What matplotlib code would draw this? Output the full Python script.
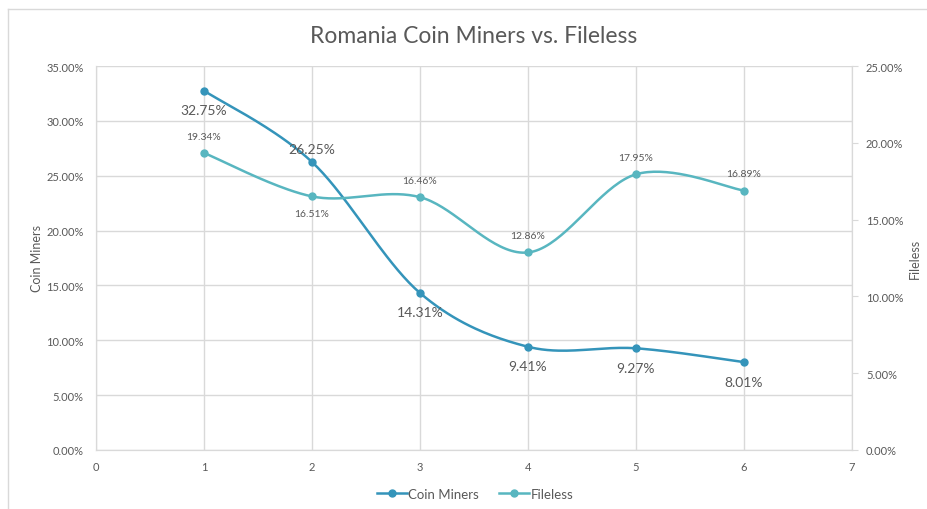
import numpy as np
import matplotlib.pyplot as plt
from matplotlib.ticker import PercentFormatter

# data
x_points = [1, 2, 3, 4, 5, 6]
coin_miners = [32.75, 26.25, 14.31, 9.41, 9.27, 8.01]
fileless = [19.34, 16.51, 16.46, 12.86, 17.95, 16.89]
coin_label_above = [False, True, False, False, False, False]
fileless_label_above = [True, False, True, True, True, True]

col_coin = "#3494BA"
col_file = "#58B6C0"
txt_gray = "#595959"
grid_gray = "#D9D9D9"

plt.rcParams['font.family'] = ['Lato', 'DejaVu Sans']


# Excel-like smoothed line (cardinal spline drawn as cubic bezier segments)
def smooth_curve(xs, ys, n=40):
    xs = np.asarray(xs, float)
    ys = np.asarray(ys, float)
    px = np.concatenate([[xs[0]], xs, [xs[-1]]])
    py = np.concatenate([[ys[0]], ys, [ys[-1]]])
    out_x, out_y = [], []
    t = np.linspace(0, 1, n)
    for i in range(1, len(px) - 2):
        p0 = np.array([px[i], py[i]])
        p3 = np.array([px[i + 1], py[i + 1]])
        c1 = p0 + (np.array([px[i + 1], py[i + 1]]) - np.array([px[i - 1], py[i - 1]])) / 6
        c2 = p3 - (np.array([px[i + 2], py[i + 2]]) - np.array([px[i], py[i]])) / 6
        b = ((1 - t) ** 3)[:, None] * p0 + (3 * (1 - t) ** 2 * t)[:, None] * c1 \
            + (3 * (1 - t) * t ** 2)[:, None] * c2 + (t ** 3)[:, None] * p3
        out_x.extend(b[:, 0])
        out_y.extend(b[:, 1])
    return np.array(out_x), np.array(out_y)


fig = plt.figure(figsize=(9.28, 5.10), dpi=100)
ax = fig.add_axes([96 / 928, 1 - 451 / 510, (852 - 96) / 928, (451 - 67) / 510])
ax2 = ax.twinx()

# chart frame
fig.add_artist(plt.Line2D([8 / 928, 8 / 928], [0, 1 - 10 / 510], transform=fig.transFigure, color=grid_gray, lw=1))
fig.add_artist(plt.Line2D([8 / 928, 1], [1 - 10 / 510, 1 - 10 / 510], transform=fig.transFigure, color=grid_gray, lw=1))

ax.set_xlim(0, 7)
ax.set_ylim(0, 35)
ax2.set_ylim(0, 25)
ax.set_xticks(range(0, 8))
ax.set_yticks(np.arange(0, 35.1, 5))
ax2.set_yticks(np.arange(0, 25.1, 5))
ax.yaxis.set_major_formatter(PercentFormatter(decimals=2))
ax2.yaxis.set_major_formatter(PercentFormatter(decimals=2))

ax.grid(True, color=grid_gray, lw=1)
ax.set_axisbelow(True)
for a in (ax, ax2):
    for s in a.spines.values():
        s.set_color(grid_gray)
    a.spines['top'].set_visible(False)
ax.tick_params(axis='both', length=0, labelsize=8, colors=txt_gray, pad=9)
ax.tick_params(axis='x', pad=8)
ax2.tick_params(axis='y', length=4, color=grid_gray, labelsize=8, labelcolor=txt_gray, pad=6)

sx, sy = smooth_curve(x_points, coin_miners)
ax.plot(sx, sy, color=col_coin, lw=1.8, zorder=3)
ax.plot(x_points, coin_miners, 'o', color=col_coin, ms=5, zorder=4)
fx, fy = smooth_curve(x_points, fileless)
ax2.plot(fx, fy, color=col_file, lw=1.8, zorder=3)
ax2.plot(x_points, fileless, 'o', color=col_file, ms=5, zorder=4)

for xv, yv, up in zip(x_points, coin_miners, coin_label_above):
    ax.annotate(f"{yv:.2f}%", (xv, yv), xytext=(0, 9 if up else -14), textcoords='offset points',
                ha='center', va='center', fontsize=10, color=txt_gray, zorder=5)
for xv, yv, up in zip(x_points, fileless, fileless_label_above):
    ax2.annotate(f"{yv:.2f}%", (xv, yv), xytext=(0, 12 if up else -12), textcoords='offset points',
                 ha='center', va='center', fontsize=7.5, color=txt_gray, zorder=5)

ax.set_ylabel("Coin Miners", fontsize=9, color=txt_gray, labelpad=2)
ax2.set_ylabel("Fileless", fontsize=9, color=txt_gray, labelpad=4)
ax.set_title("Romania Coin Miners vs. Fileless", fontsize=16.5, color=txt_gray, pad=17)

h1 = plt.Line2D([], [], color=col_coin, lw=1.8, marker='o', ms=5)
h2 = plt.Line2D([], [], color=col_file, lw=1.8, marker='o', ms=5)
leg = fig.legend([h1, h2], ["Coin Miners", "Fileless"], loc='center', bbox_to_anchor=(0.512, 1 - 495 / 510),
                 ncol=2, frameon=False, fontsize=9.5, handlelength=2.3, handletextpad=0.1, columnspacing=1.5)
for t in leg.get_texts():
    t.set_color(txt_gray)

fig.savefig("out.png", dpi=100)
